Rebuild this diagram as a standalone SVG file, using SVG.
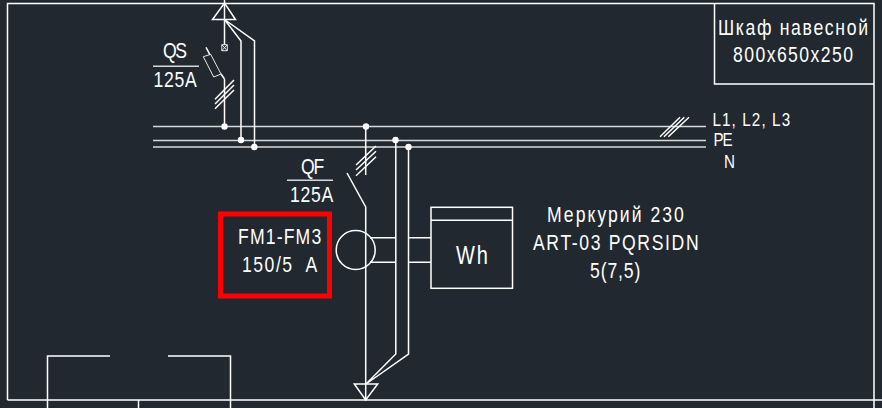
<svg xmlns="http://www.w3.org/2000/svg" width="882" height="408" viewBox="0 0 882 408">
<style>
.l{fill:none;stroke:#fff;stroke-width:1.5}
.b{fill:none;stroke:#d8d8d8;stroke-width:1.5}
.t{fill:none;stroke:#e8e8e8;stroke-width:1}
.d{fill:#fff;stroke:none}
text{font-family:"Liberation Sans",Arial,sans-serif;font-size:22px;fill:#fff;white-space:pre}
.s{font-size:19px}
.w{font-size:25px}
</style>
<rect width="882" height="408" fill="#212830"/>
<g id="frame"><path class="l" d="M7.500 400V3.500H874V408M7.500 400H882"/></g>
<g id="cabinet"><path class="l" d="M714.500 3.500V84H874"/>
<text transform="translate(718 35) scale(.8 1)" textLength="187.500">Шкаф навесной</text>
<text transform="translate(733 62) scale(.8 1)" textLength="150">800x650x250</text></g>
<g id="connectors">
<path class="b" d="M153 126.500H706M153 140.500H706M153 147H706"/>
<path class="l" d="M224.500 0V44.700M224.500 79V126.500M206 47.300L210 54.800M221 74L224.500 79"/>
<path class="l" d="M224.500 19.500L241 41V140M224.500 19.500L254.500 41V147"/>
<path class="l" d="M365.700 126.500V175M347 173L365.700 207V400"/>
<path class="l" d="M395.800 140V354L366 384M408.500 147V354L366 384"/>
<path class="l" d="M370 237.700H395.800M408.500 237.700H431M370 262.300H395.800M408.500 262.300H431"/>
<path class="l" d="M215 99.300L234 80M215 104L234 85M215 108.700L234 90"/>
<path class="l" d="M356 165L376 146M356 170L376 151.300M356 175.700L376 156.700"/>
<path class="l" d="M660 136.700L680 117.300M664 136.700L684.300 117.300M668.300 136.700L689 117.300"/>
</g>
<g id="dots">
<circle class="d" cx="224.500" cy="126.500" r="3.200"/><circle class="d" cx="241" cy="140" r="3.200"/><circle class="d" cx="254.300" cy="147" r="3.200"/>
<circle class="d" cx="366" cy="126.500" r="3.200"/><circle class="d" cx="395.500" cy="140" r="3.200"/><circle class="d" cx="408.500" cy="147" r="3.200"/>
</g>
<g id="source"><path class="l" d="M212.500 19.500H235.500L224.500 3Z"/></g>
<g id="ground"><path class="l" d="M354.300 384H377.700L365.700 400Z"/></g>
<g id="qs">
<path class="t" d="M203.300 56.700L210.700 54.300L221 74L213.700 77Z"/>
<path class="t" d="M221.800 44.700H227.300V50.700H221.800ZM221.800 44.700L227.300 50.700M227.300 44.700L221.800 50.700"/>
<path class="b" d="M153 66.300H199"/>
<text transform="translate(163 58) scale(.8 1)" textLength="30">QS</text>
<text transform="translate(153.500 87) scale(.8 1)" textLength="54">125A</text></g>
<g id="qf"><path class="b" d="M287 180.300H333"/>
<text transform="translate(301 174) scale(.8 1)" textLength="29">QF</text>
<text transform="translate(290 202) scale(.8 1)" textLength="54">125A</text></g>
<g id="ct"><circle class="l" cx="355.700" cy="250" r="19.500"/>
<rect x="220.500" y="214" width="109" height="82" fill="none" stroke="#f00" stroke-width="5"/>
<text transform="translate(238 244) scale(.8 1)" textLength="104">FM1-FM3</text>
<text transform="translate(242 272) scale(.8 1)" textLength="94">150/5  A</text></g>
<g id="meter"><rect class="l" x="431" y="207.300" width="81.500" height="81"/><path class="l" d="M431 220.300H512.500"/>
<text class="w" transform="translate(456 264) scale(.8 1)" textLength="40">Wh</text>
<text transform="translate(547 222) scale(.8 1)" textLength="171">Меркурий 230</text>
<text transform="translate(533 250) scale(.8 1)" textLength="207">ART-03 PQRSIDN</text>
<text transform="translate(590 278) scale(.8 1)" textLength="63">5(7,5)</text></g>
<g id="labels">
<text class="s" transform="translate(712.500 126) scale(.8 1)" textLength="97">L1, L2, L3</text>
<text class="s" transform="translate(713.500 146) scale(.8 1)" textLength="24">PE</text>
<text class="s" transform="translate(724 168) scale(.8 1)" textLength="12">N</text></g>
<g id="bottom"><path class="l" d="M47.500 408V356H110M168 356H230.500V408M138.500 400V408"/></g>
</svg>
